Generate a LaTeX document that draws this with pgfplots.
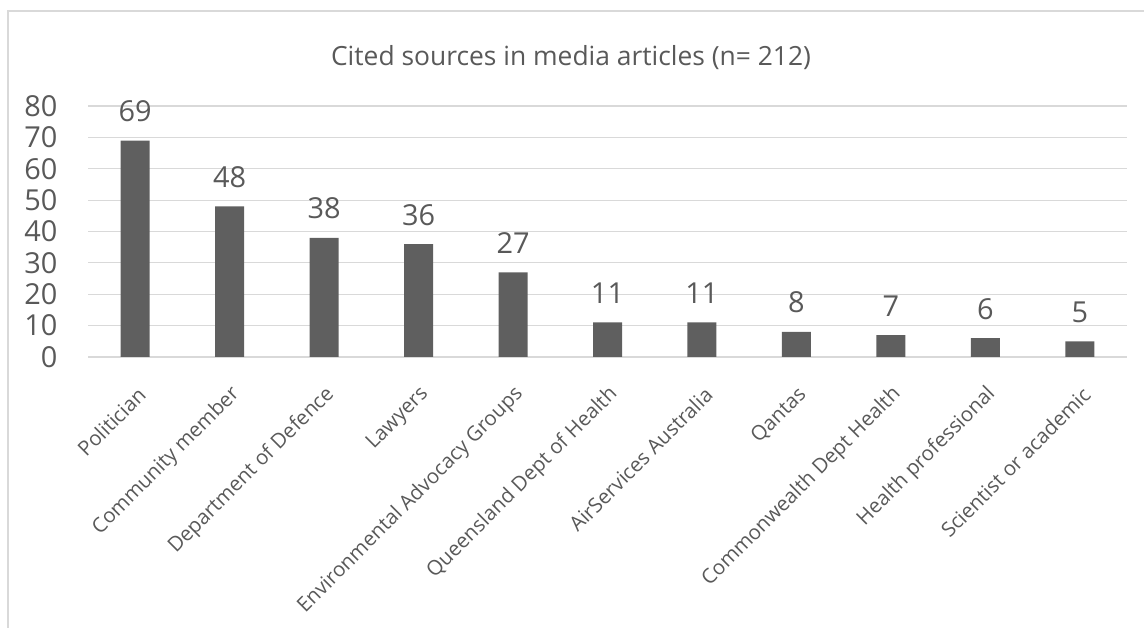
\documentclass[border=0pt]{standalone}
\usepackage{fontspec}
\setmainfont{Open Sans}
\usepackage{pgfplots}
\pgfplotsset{compat=1.18}
\definecolor{barc}{HTML}{5F5F5F}
\definecolor{txt}{HTML}{595959}
\definecolor{gridc}{HTML}{D9D9D9}
\begin{document}
\begin{tikzpicture}[x=1bp,y=1bp]
\useasboundingbox (0,0) rectangle (1144,628);
\draw[gridc, line width=1.2bp] (8,-5) -- (8,617) -- (1150,617);
\node[text=txt, font=\fontsize{26.5}{26.5}\selectfont] at (571,570) {Cited sources in media articles (n= 212)};
\begin{axis}[
  at={(88bp,271bp)}, anchor=south west,
  scale only axis, width=1039bp, height=251bp,
  ymin=0, ymax=80, xmin=-0.5, xmax=10.5,
  ytick={0,10,...,80}, xtick={0,...,10},
  xticklabels={Politician, Community member, Department of Defence, Lawyers, Environmental Advocacy Groups, Queensland Dept of Health, AirServices Australia, Qantas, Commonwealth Dept Health, Health professional, Scientist or academic},
  ymajorgrids, grid style={gridc, line width=1.2bp},
  axis line style={draw=none},
  major tick length=0pt,
  /pgf/number format/assume math mode=true,
  yticklabel style={text=txt, font=\fontsize{29}{29}\selectfont, xshift=-27bp},
  xticklabel style={text=txt, font=\fontsize{20.5}{20.5}\selectfont, rotate=45, anchor=east, yshift=-29bp, xshift=-16bp},
  ybar, bar width=29bp,
  nodes near coords,
  every node near coord/.append style={text=txt, font=\fontsize{29}{29}\selectfont, anchor=base, yshift=19bp},
  clip=false,
]
\addplot[fill=barc, draw=none] coordinates {(0,69) (1,48) (2,38) (3,36) (4,27) (5,11) (6,11) (7,8) (8,7) (9,6) (10,5)};
\end{axis}
\end{tikzpicture}
\end{document}
